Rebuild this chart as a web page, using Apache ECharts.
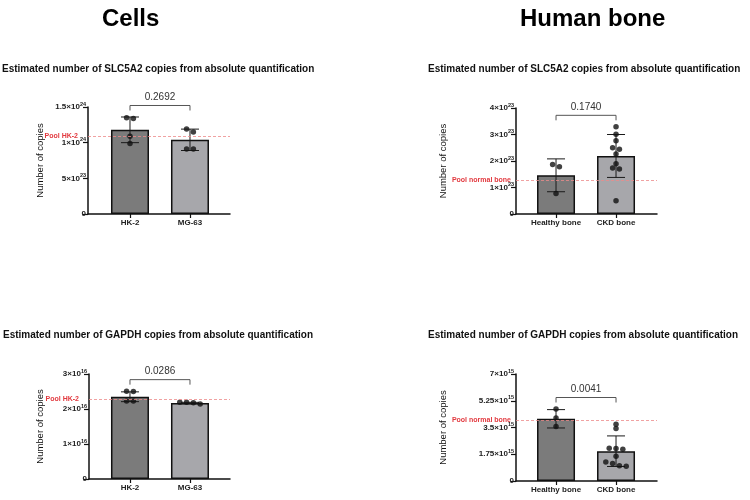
<!DOCTYPE html>
<html>
<head>
<meta charset="UTF-8" />
<script src="https://cdn.jsdelivr.net/npm/echarts@6/dist/echarts.min.js"></script>
<style>
  body { margin: 0; background: #fff; }
  #chart { width: 750px; height: 500px; }
</style>
</head>
<body>
<div id="chart"></div>
<script>
// categories
var cellCats = ['HK-2', 'MG-63']
var boneCats = ['Healthy bone', 'CKD bone']

// SLC5A2, cells
var slcCellMean = [1.18e24, 1.04e24]
var slcCellSd = [0.18e24, 0.15e24]
var slcHk2Pts = [1.35e24, 1.34e24, 1.09e24, 0.99e24]
var slcMg63Pts = [1.19e24, 1.15e24, 0.91e24, 0.91e24]

// SLC5A2, bone
var slcBoneMean = [1.46e23, 2.19e23]
var slcBoneSd = [0.62e23, 0.81e23]
var slcHealthyPts = [1.87e23, 1.78e23, 0.77e23]
var slcCkdPts = [3.29e23, 3.01e23, 2.76e23, 2.50e23, 2.44e23, 2.26e23, 1.90e23, 1.74e23, 1.70e23, 0.50e23]

// GAPDH, cells
var gapdhCellMean = [2.35e16, 2.17e16]
var gapdhCellSd = [0.14e16, 0.02e16]
var gapdhHk2Pts = [2.50e16, 2.51e16, 2.23e16, 2.23e16]
var gapdhMg63Pts = [2.14e16, 2.18e16, 2.19e16, 2.19e16]

// GAPDH, bone
var gapdhBoneMean = [4.07e15, 1.95e15]
var gapdhBoneSd = [0.6e15, 1.0e15]
var gapdhHealthyPts = [4.71e15, 4.12e15, 3.57e15]
var gapdhCkdPts = [3.72e15, 3.44e15, 2.15e15, 2.12e15, 2.08e15, 1.62e15, 1.25e15, 1.15e15, 1.0e15, 0.97e15]

// reference lines, p values, axes
var poolValues = [1.09e24, 1.28e23, 2.29e16, 3.96e15]
var poolLabels = ['Pool HK-2', 'Pool normal bone', 'Pool HK-2', 'Pool normal bone']
var pValues = ['0.2692', '0.1740', '0.0286', '0.0041']
var yMaxes = [1.5e24, 4e23, 3e16, 7e15]
var ySteps = [5e23, 1e23, 1e16, 1.75e15]
var subTitles = [
  'Estimated number of SLC5A2 copies from absolute quantification',
  'Estimated number of SLC5A2 copies from absolute quantification',
  'Estimated number of GAPDH copies from absolute quantification',
  'Estimated number of GAPDH copies from absolute quantification'
]

var FONT = 'Liberation Sans, Arial, sans-serif'
var barColors = ['#7b7b7b', '#a7a7ab']

var panels = [
  { cats: cellCats, mean: slcCellMean, sd: slcCellSd, pts: [slcHk2Pts, slcMg63Pts] },
  { cats: boneCats, mean: slcBoneMean, sd: slcBoneSd, pts: [slcHealthyPts, slcCkdPts] },
  { cats: cellCats, mean: gapdhCellMean, sd: gapdhCellSd, pts: [gapdhHk2Pts, gapdhMg63Pts] },
  { cats: boneCats, mean: gapdhBoneMean, sd: gapdhBoneSd, pts: [gapdhHealthyPts, gapdhCkdPts] }
]

// where each little plot sits on the page
var layouts = [
  { left: 88, top: 107, width: 142, height: 107, xMin: 0.3, xMax: 2.667, nameGap: 43, poolGap: 10, subLeft: 2, subTop: 64 },
  { left: 516, top: 108, width: 141, height: 106, xMin: 0.333, xMax: 2.683, nameGap: 68, poolGap: 5, subLeft: 428, subTop: 64 },
  { left: 89, top: 374, width: 141, height: 105, xMin: 0.317, xMax: 2.667, nameGap: 44, poolGap: 10, subLeft: 3, subTop: 330 },
  { left: 516, top: 374, width: 141, height: 107, xMin: 0.333, xMax: 2.683, nameGap: 68, poolGap: 5, subLeft: 428, subTop: 330 }
]

function sciLabel(v) {
  if (v === 0) return '{m|0}'
  var e = Math.floor(Math.log10(v) + 1e-9)
  var m = parseFloat((v / Math.pow(10, e)).toFixed(2))
  return '{m|' + m + '×10}{e|' + e + '}'
}

// spread points with (nearly) the same value sideways, like a column scatter
function jitter(vals, cat, yMax, h, pxPerX) {
  var idx = vals.map(function (v, i) { return i }).sort(function (a, b) { return vals[b] - vals[a] })
  var pxPerVal = h / yMax
  var groups = []
  idx.forEach(function (i, k) {
    if (k > 0 && (vals[idx[k - 1]] - vals[i]) * pxPerVal < 3.5) groups[groups.length - 1].push(i)
    else groups.push([i])
  })
  var out = []
  groups.forEach(function (g) {
    g.forEach(function (i, j) {
      var off = (j - (g.length - 1) / 2) * 6.8 / pxPerX
      out.push([cat + off, vals[i]])
    })
  })
  return out
}

var option = {
  animation: false,
  backgroundColor: '#fff',
  textStyle: { fontFamily: FONT },
  title: [
    { text: 'Cells', left: 102, top: 7, padding: 0, textStyle: { fontSize: 24, fontWeight: 'bold', color: '#000', fontFamily: FONT } },
    { text: 'Human bone', left: 520, top: 7, padding: 0, textStyle: { fontSize: 24, fontWeight: 'bold', color: '#000', fontFamily: FONT } }
  ],
  grid: [],
  xAxis: [],
  yAxis: [],
  series: []
}

panels.forEach(function (p, i) {
  var L = layouts[i]
  var pxPerX = L.width / (L.xMax - L.xMin)
  option.title.push({
    text: subTitles[i], left: L.subLeft, top: L.subTop, padding: 0,
    textStyle: { fontSize: 10, fontWeight: 'bold', color: '#111', fontFamily: FONT }
  })
  option.grid.push({ left: L.left, top: L.top, width: L.width, height: L.height })
  option.xAxis.push({
    type: 'value', gridIndex: i, min: L.xMin, max: L.xMax,
    splitLine: { show: false },
    axisLine: { show: true, lineStyle: { color: '#111', width: 1.5 } },
    axisTick: { show: true, customValues: [1, 2], length: 4, lineStyle: { color: '#111', width: 1.2 } },
    axisLabel: {
      customValues: [1, 2], margin: 5, fontSize: 8, fontWeight: 'bold', color: '#222',
      formatter: function (v) { return p.cats[Math.round(v) - 1] }
    }
  })
  option.yAxis.push({
    type: 'value', gridIndex: i, min: 0, max: yMaxes[i], interval: ySteps[i],
    name: 'Number of copies', nameLocation: 'middle', nameGap: L.nameGap,
    nameTextStyle: { fontSize: 9.5, color: '#111', fontFamily: FONT },
    splitLine: { show: false },
    axisLine: { show: true, lineStyle: { color: '#111', width: 1.5 } },
    axisTick: { show: true, length: 5, lineStyle: { color: '#111', width: 1.2 } },
    axisLabel: {
      margin: 2, formatter: sciLabel,
      rich: {
        m: { fontSize: 8, fontWeight: 'bold', color: '#222', fontFamily: FONT },
        e: { fontSize: 5.5, fontWeight: 'bold', color: '#222', fontFamily: FONT, padding: [0, 0, 6, 0] }
      }
    }
  })

  var topVal = 0
  p.pts.forEach(function (arr, c) {
    arr.forEach(function (v) { topVal = Math.max(topVal, v) })
    topVal = Math.max(topVal, p.mean[c] + p.sd[c])
  })

  option.series.push({
    type: 'bar', xAxisIndex: i, yAxisIndex: i, barWidth: 38,
    data: p.mean.map(function (m, c) {
      return { value: [c + 1, m], itemStyle: { color: barColors[c], borderColor: '#111', borderWidth: 1.5 } }
    }),
    markLine: {
      silent: true, symbol: 'none',
      lineStyle: { color: '#ec8a8a', type: [3, 2], width: 0.8 },
      label: { show: true, position: 'start', distance: L.poolGap, formatter: poolLabels[i], color: '#e2393f', fontSize: 7, fontWeight: 'bold', fontFamily: FONT },
      data: [{ yAxis: poolValues[i] }]
    }
  })
  option.series.push({
    type: 'custom', xAxisIndex: i, yAxisIndex: i, z: 3, clip: false,
    data: p.mean.map(function (m, c) { return [c + 1, m, p.sd[c]] }),
    renderItem: function (params, api) {
      var x = api.value(0), m = api.value(1), s = api.value(2)
      var a = api.coord([x, m + s]), b = api.coord([x, m - s])
      var st = { stroke: '#1a1a1a', lineWidth: 1 }
      return { type: 'group', children: [
        { type: 'line', shape: { x1: a[0], y1: a[1], x2: b[0], y2: b[1] }, style: st },
        { type: 'line', shape: { x1: a[0] - 9, y1: a[1], x2: a[0] + 9, y2: a[1] }, style: st },
        { type: 'line', shape: { x1: b[0] - 9, y1: b[1], x2: b[0] + 9, y2: b[1] }, style: st }
      ] }
    }
  })
  var scatterData = []
  p.pts.forEach(function (arr, c) {
    scatterData = scatterData.concat(jitter(arr, c + 1, yMaxes[i], L.height, pxPerX))
  })
  option.series.push({
    type: 'scatter', xAxisIndex: i, yAxisIndex: i, z: 4,
    symbol: 'circle', symbolSize: 5.5, itemStyle: { color: '#111' },
    data: scatterData
  })
  option.series.push({
    type: 'custom', xAxisIndex: i, yAxisIndex: i, z: 5, clip: false,
    data: [[1.5, topVal]],
    renderItem: function (params, api) {
      var x1 = api.coord([1, 0])[0], x2 = api.coord([2, 0])[0]
      var yb = api.coord([1.5, api.value(1)])[1] - 11.5
      return { type: 'group', children: [
        { type: 'polyline', shape: { points: [[x1, yb + 5], [x1, yb], [x2, yb], [x2, yb + 5]] }, style: { stroke: '#555', lineWidth: 1, fill: null } },
        { type: 'text', style: { text: pValues[i], x: (x1 + x2) / 2, y: yb - 8.5, align: 'center', verticalAlign: 'middle', fill: '#333', fontSize: 10, fontFamily: FONT } }
      ] }
    }
  })
})

var chart = echarts.init(document.getElementById('chart'))
chart.setOption(option)
</script>
</body>
</html>
